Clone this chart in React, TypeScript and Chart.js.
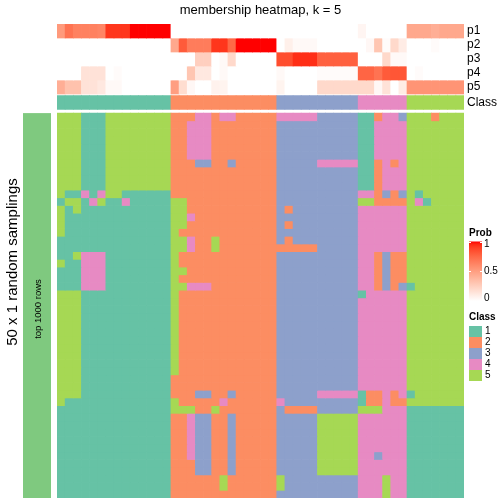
import React, { useEffect, useRef } from "react";
import { Chart, registerables } from "chart.js";

Chart.register(...registerables);

// ---------------- data ----------------
const TITLE = "membership heatmap, k = 5";
const probRowLabels = ["p1", "p2", "p3", "p4", "p5"];
const classRowLabel = "Class";
const rowTitle = "50 x 1 random samplings";
const leftAnnoLabel = "top 1000 rows";
const probLegendTitle = "Prob";
const probTicks = [1, 0.5, 0];
const classLegendTitle = "Class";
const classLevels = ["1", "2", "3", "4", "5"];

const sampleNames = Array.from({ length: 50 }, (_, i) => `s${i + 1}`);

// membership probabilities per sample (columns)
const p1 = [
  0.52, 0.7, 0.64, 0.64, 0.64, 0.62, 0.92, 0.92, 0.92, 1, 1, 1, 1, 1,
  0, 0, 0, 0, 0, 0, 0, 0, 0, 0, 0, 0, 0,
  0, 0, 0, 0, 0, 0, 0, 0, 0, 0,
  0.05, 0, 0, 0, 0, 0,
  0.45, 0.45, 0.45, 0.42, 0.45, 0.45, 0.45,
];
const p2 = [
  0, 0, 0, 0, 0, 0, 0, 0, 0, 0, 0, 0, 0, 0,
  0.45, 0.8, 0.66, 0.66, 0.66, 0.92, 0.92, 0.75, 1, 1, 1, 1, 1,
  0, 0.08, 0.03, 0.03, 0.03, 0, 0, 0, 0, 0,
  0, 0.04, 0.3, 0.02, 0.2, 0.1,
  0, 0, 0, 0.02, 0, 0, 0,
];
const p3 = [
  0, 0, 0, 0, 0, 0, 0, 0, 0, 0, 0, 0, 0, 0,
  0, 0, 0, 0.25, 0.25, 0, 0.03, 0.2, 0, 0, 0, 0, 0,
  0.85, 0.85, 0.94, 0.94, 0.94, 0.78, 0.78, 0.78, 0.78, 0.78,
  0, 0, 0, 0.2, 0.03, 0.03,
  0, 0, 0, 0, 0, 0, 0,
];
const p4 = [
  0, 0, 0, 0.15, 0.15, 0.15, 0, 0.02, 0, 0, 0, 0, 0, 0,
  0, 0, 0.3, 0.12, 0.12, 0, 0.03, 0, 0, 0, 0, 0, 0,
  0.03, 0, 0, 0, 0, 0.02, 0.02, 0.02, 0.02, 0.02,
  0.76, 0.76, 0.7, 0.8, 0.82, 0.82,
  0, 0.02, 0, 0, 0, 0, 0,
];
const p5 = [
  0.42, 0.32, 0.32, 0.15, 0.15, 0.12, 0.03, 0.03, 0, 0, 0, 0, 0, 0,
  0.5, 0.18, 0.04, 0, 0, 0.07, 0.06, 0, 0, 0, 0, 0, 0,
  0.06, 0, 0, 0, 0, 0.2, 0.2, 0.2, 0.2, 0.2,
  0.2, 0.2, 0.04, 0.15, 0, 0.1,
  0.55, 0.55, 0.55, 0.55, 0.55, 0.55, 0.55,
];
const probRows = [p1, p2, p3, p4, p5];

// consensus class per sample
const consensusClass = "11111111111111 2222222222222 3333333333 444444 5555555";

// class assignment in each of the 50 random samplings (one string per row)
const samplingRows = [
  "55511155555555 2224424422222 4444433333 112443 5552555",
  "55511155555555 2244422222222 3333333333 114444 5555555",
  "55511155555555 2244422222222 3333333333 114444 5555555",
  "55511155555555 2244422222222 3333333333 114444 5555555",
  "55511155555555 2244422222222 3333333333 114444 5555555",
  "55511155555555 2244422222222 3333333333 114444 5555555",
  "55511155555555 2223322322222 3333344444 112424 5555555",
  "55511155555555 2222222222222 3333333333 112444 5555555",
  "55511155555555 2222222222222 3333333333 112444 5555555",
  "55511155555555 2222222222222 3333333333 112444 5555555",
  "51141455111111 2222222222222 3333333333 442323 5155555",
  "15514511411111 5522222222222 3333333333 552222 5415555",
  "51511111111111 5522222222222 3233333333 444444 5555555",
  "51111111111111 5542222222222 3333333333 444444 5555555",
  "51111111111111 5522222222222 3233333333 444444 5555555",
  "51111111111111 5222222222222 3333333333 444444 5555555",
  "11111111111111 5542252222222 3233333333 444444 5555555",
  "11111111111111 5542252222222 2222233333 444444 5555555",
  "11544411111111 5222222222222 3333333333 442322 5555555",
  "51144411111111 5222222222222 3333333333 442322 5555555",
  "11144411111111 5522222222222 3333333333 442322 5555555",
  "11144411111111 5222222222222 3333333333 442322 5555555",
  "11144411111111 5544422222222 3333333333 442323 1555555",
  "55511111111111 5222222222222 3333333333 144444 5555555",
  "55511111111111 5222222222222 3333333333 444444 5555555",
  "55511111111111 5222222222222 3333333333 444444 5555555",
  "55511111111111 5222222222222 3333333333 444444 5555555",
  "55511111111111 5222222222222 3333333333 444444 5555555",
  "55511111111111 5222222222222 3333333333 444444 5555555",
  "55511111111111 5222222222222 3333333333 444444 5555555",
  "55511111111111 5222222222222 3333333333 444444 5555555",
  "55511111111111 5222222222222 3333333333 444444 5555555",
  "55511111111111 5222222222222 3333333333 444444 5555555",
  "55511111111111 5222222222222 3333333333 444444 5555555",
  "55511111111111 2222222222222 3333333333 444444 5555555",
  "55511111111111 2222222222222 3333333333 444444 5555555",
  "55511111111111 2223322322222 3333344444 122424 1555555",
  "51111111111111 5222224222222 4333333333 122422 5555555",
  "11111111111111 5552252222222 3222233333 555444 1111111",
  "11111111111111 2243322322222 3333355555 444444 1111111",
  "11111111111111 2243322322222 3333355555 444444 1111111",
  "11111111111111 2243322322222 3333355555 444444 1111111",
  "11111111111111 2243322322222 3333355555 444444 1111111",
  "11111111111111 2243322322222 3333355555 444444 1111111",
  "11111111111111 2243322322222 3333355555 443444 1111111",
  "11111111111111 2223322322222 3333355555 444444 1111111",
  "11111111111111 2223322322222 3333355555 444444 1111111",
  "11111111111111 2222225222222 5333333333 444544 1111111",
  "11111111111111 2222225222222 5333333333 444544 1111111",
  "11111111111111 2222222222222 3333333333 444544 1111111",
];

// ---------------- styles ----------------
const CLASS_COLORS: Record<string, string> = {
  "1": "#66C2A5",
  "2": "#FC8D62",
  "3": "#8DA0CB",
  "4": "#E78AC3",
  "5": "#A6D854",
};
const LEFT_ANNO_COLOR = "#7FC97F";
const FONT = "'Liberation Sans', Arial, Helvetica, sans-serif";

// layout (vertical units of the y scale, top = 0)
const P_ROW_H = 14;
const CLASS_TOP = 71.6;
const CLASS_BOT = 85.4;
const HEAT_TOP = 89.1;
const HEAT_BOT = 474;

// ---------------- colour ramp (white -> red in LAB) ----------------
function srgbToLin(c: number) {
  c /= 255;
  return c <= 0.04045 ? c / 12.92 : Math.pow((c + 0.055) / 1.055, 2.4);
}
function linToSrgb(c: number) {
  const v = c <= 0.0031308 ? 12.92 * c : 1.055 * Math.pow(Math.max(c, 0), 1 / 2.4) - 0.055;
  return Math.round(Math.min(1, Math.max(0, v)) * 255);
}
const XN = 0.95047, YN = 1, ZN = 1.08883;
const EPS = 216 / 24389, KAP = 24389 / 27;
function fLab(t: number) {
  return t > EPS ? Math.cbrt(t) : (KAP * t + 16) / 116;
}
function fLabInv(t: number) {
  const t3 = t * t * t;
  return t3 > EPS ? t3 : (116 * t - 16) / KAP;
}
function rgbToLab(r: number, g: number, b: number) {
  const R = srgbToLin(r), G = srgbToLin(g), B = srgbToLin(b);
  const X = 0.4124564 * R + 0.3575761 * G + 0.1804375 * B;
  const Y = 0.2126729 * R + 0.7151522 * G + 0.072175 * B;
  const Z = 0.0193339 * R + 0.119192 * G + 0.9503041 * B;
  const fx = fLab(X / XN), fy = fLab(Y / YN), fz = fLab(Z / ZN);
  return [116 * fy - 16, 500 * (fx - fy), 200 * (fy - fz)];
}
function labToRgb(L: number, a: number, b: number) {
  const fy = (L + 16) / 116, fx = fy + a / 500, fz = fy - b / 200;
  const X = XN * fLabInv(fx), Y = YN * fLabInv(fy), Z = ZN * fLabInv(fz);
  const R = 3.2404542 * X - 1.5371385 * Y - 0.4985314 * Z;
  const G = -0.969266 * X + 1.8760108 * Y + 0.041556 * Z;
  const B = 0.0556434 * X - 0.2040259 * Y + 1.0572252 * Z;
  return `rgb(${linToSrgb(R)},${linToSrgb(G)},${linToSrgb(B)})`;
}
const LAB_WHITE = rgbToLab(255, 255, 255);
const LAB_RED = rgbToLab(255, 0, 0);
function probColor(v: number) {
  const t = Math.min(1, Math.max(0, v));
  return labToRgb(
    LAB_WHITE[0] + (LAB_RED[0] - LAB_WHITE[0]) * t,
    LAB_WHITE[1] + (LAB_RED[1] - LAB_WHITE[1]) * t,
    LAB_WHITE[2] + (LAB_RED[2] - LAB_WHITE[2]) * t
  );
}

const parseRow = (s: string) => s.replace(/\s+/g, "").split("");

// ---------------- overlay plugin (titles, labels, legends) ----------------
const overlayPlugin = {
  id: "overlay",
  afterDraw(chart: any) {
    const ctx: CanvasRenderingContext2D = chart.ctx;
    const area = chart.chartArea;
    const yS = chart.scales.y;
    ctx.save();
    ctx.fillStyle = "#000";

    // title
    ctx.font = `13px ${FONT}`;
    ctx.textAlign = "center";
    ctx.textBaseline = "middle";
    ctx.fillText(TITLE, (area.left + area.right) / 2, 10);

    // annotation row names
    ctx.font = `12px ${FONT}`;
    ctx.textAlign = "left";
    probRowLabels.forEach((lab, k) => {
      ctx.fillText(lab, area.right + 3, yS.getPixelForValue(k * P_ROW_H + P_ROW_H / 2));
    });
    ctx.fillText(classRowLabel, area.right + 3, yS.getPixelForValue((CLASS_TOP + CLASS_BOT) / 2));

    // left annotation bar
    const hTop = yS.getPixelForValue(HEAT_TOP);
    const hBot = yS.getPixelForValue(HEAT_BOT);
    ctx.fillStyle = LEFT_ANNO_COLOR;
    ctx.fillRect(23, hTop, 28, hBot - hTop);

    // rotated texts
    ctx.fillStyle = "#000";
    ctx.save();
    ctx.translate(12.5, 262);
    ctx.rotate(-Math.PI / 2);
    ctx.font = `15px ${FONT}`;
    ctx.textAlign = "center";
    ctx.textBaseline = "middle";
    ctx.fillText(rowTitle, 0, 0);
    ctx.restore();

    ctx.save();
    ctx.translate(38, 309);
    ctx.rotate(-Math.PI / 2);
    ctx.font = `9.5px ${FONT}`;
    ctx.textAlign = "center";
    ctx.textBaseline = "middle";
    ctx.fillText(leftAnnoLabel, 0, 0);
    ctx.restore();

    // Prob legend
    const lx = 469, lw = 13;
    const gTop = 241.5, gBot = 301;
    ctx.font = `bold 10px ${FONT}`;
    ctx.textAlign = "left";
    ctx.textBaseline = "middle";
    ctx.fillText(probLegendTitle, lx, 233.5);
    const grad = ctx.createLinearGradient(0, gTop, 0, gBot);
    for (let i = 0; i <= 20; i++) {
      const t = i / 20;
      grad.addColorStop(t, probColor(1 - t));
    }
    ctx.fillStyle = grad;
    ctx.fillRect(lx, gTop, lw, gBot - gTop);
    ctx.strokeStyle = "#fff";
    ctx.lineWidth = 1;
    probTicks.forEach((v) => {
      const y = Math.round(gTop + (1 - v) * (gBot - gTop)) + 0.5;
      ctx.beginPath();
      ctx.moveTo(lx, y);
      ctx.lineTo(lx + 2, y);
      ctx.moveTo(lx + lw - 2, y);
      ctx.lineTo(lx + lw, y);
      ctx.stroke();
    });
    ctx.fillStyle = "#000";
    ctx.font = `10px ${FONT}`;
    probTicks.forEach((v) => {
      let y = gTop + (1 - v) * (gBot - gTop);
      y = Math.min(Math.max(y, gTop + 3), gBot - 2.5);
      ctx.fillText(String(v), lx + lw + 2, y);
    });

    // Class legend
    ctx.font = `bold 10px ${FONT}`;
    ctx.fillText(classLegendTitle, lx, 317.5);
    const boxH = 11;
    const bTop = 326;
    classLevels.forEach((lv, i) => {
      ctx.fillStyle = CLASS_COLORS[lv];
      ctx.fillRect(lx, bTop + i * boxH, lw, boxH);
      ctx.fillStyle = "#000";
      ctx.font = `10px ${FONT}`;
      ctx.fillText(lv, lx + lw + 3, bTop + i * boxH + boxH / 2);
    });

    ctx.restore();
  },
};

export default function App() {
  const canvasRef = useRef<HTMLCanvasElement | null>(null);

  useEffect(() => {
    const canvas = canvasRef.current;
    if (!canvas) return;

    const datasets: any[] = [];

    // membership probability rows
    probRows.forEach((vals, k) => {
      datasets.push({
        label: probRowLabels[k],
        data: vals.map(() => [k * P_ROW_H, (k + 1) * P_ROW_H]),
        backgroundColor: vals.map((v) => probColor(v)),
      });
    });

    // consensus class row
    const cls = parseRow(consensusClass);
    datasets.push({
      label: classRowLabel,
      data: cls.map(() => [CLASS_TOP, CLASS_BOT]),
      backgroundColor: cls.map((c) => CLASS_COLORS[c]),
    });

    // sampling rows
    const rowH = (HEAT_BOT - HEAT_TOP) / samplingRows.length;
    samplingRows.forEach((s, r) => {
      const vals = parseRow(s);
      datasets.push({
        label: `sampling ${r + 1}`,
        data: vals.map(() => [HEAT_TOP + r * rowH, HEAT_TOP + (r + 1) * rowH]),
        backgroundColor: vals.map((c) => CLASS_COLORS[c]),
      });
    });

    const chart = new Chart(canvas, {
      type: "bar",
      data: { labels: sampleNames, datasets },
      options: {
        responsive: false,
        animation: false,
        events: [],
        devicePixelRatio: 1,
        layout: { padding: { left: 57, right: 40, top: 24, bottom: 6 } },
        datasets: {
          bar: {
            grouped: false,
            barPercentage: 1,
            categoryPercentage: 1,
            borderWidth: 0,
            inflateAmount: 0.35,
          },
        },
        scales: {
          x: { type: "category", display: false, offset: true },
          y: { type: "linear", display: false, min: 0, max: HEAT_BOT, reverse: true },
        },
        plugins: {
          legend: { display: false },
          tooltip: { enabled: false },
          title: { display: false },
        },
      } as any,
      plugins: [overlayPlugin],
    });

    return () => chart.destroy();
  }, []);

  return (
    <div style={{ position: "absolute", left: 0, top: 0, width: 504, height: 504, background: "#fff" }}>
      <canvas ref={canvasRef} width={504} height={504} style={{ display: "block" }} />
    </div>
  );
}
